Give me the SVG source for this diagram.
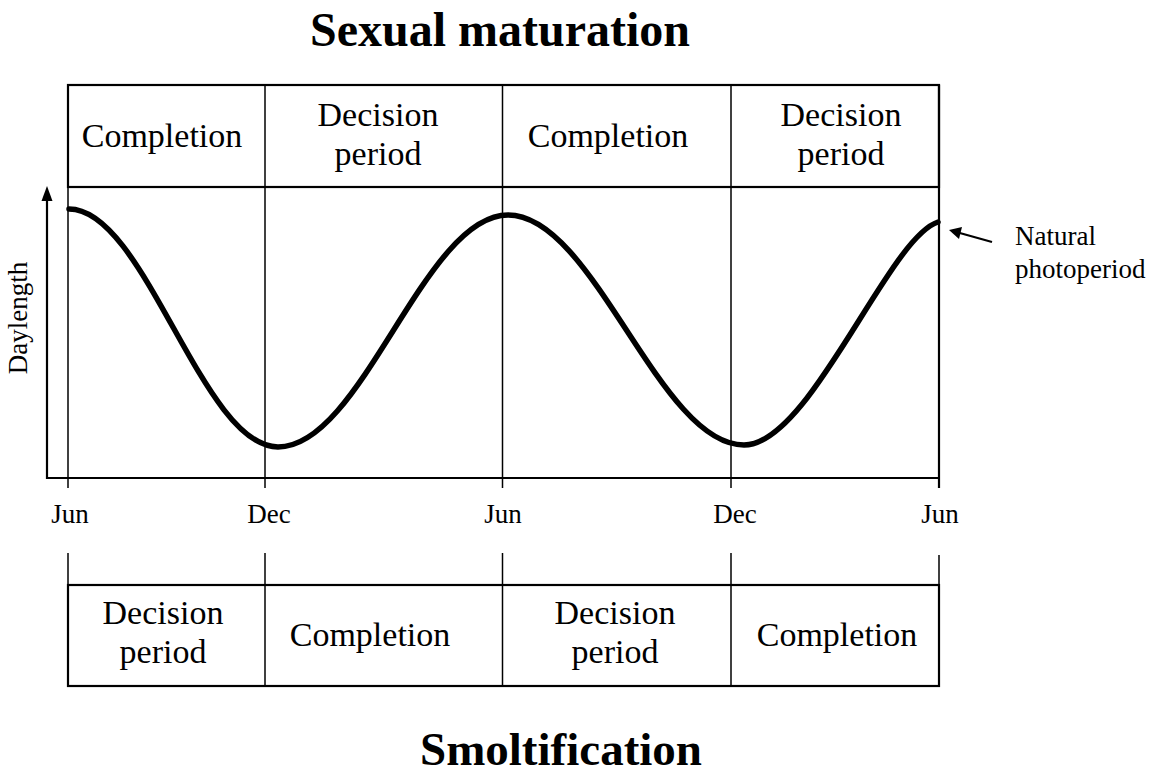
<svg xmlns="http://www.w3.org/2000/svg" width="1165" height="777" viewBox="0 0 1165 777">
<defs>
<style>
.title{font-family:"Liberation Serif","Times New Roman",serif;font-weight:bold;font-size:48px;fill:#000;text-anchor:middle}
.cell{font-family:"Liberation Serif","Times New Roman",serif;font-size:34px;fill:#000;text-anchor:middle}
.lab{font-family:"Liberation Serif","Times New Roman",serif;font-size:27px;fill:#000}
.mid{text-anchor:middle}
.box{fill:none;stroke:#000;stroke-width:2.2}
.grid{stroke:#000;stroke-width:1.5;fill:none}
.axis{stroke:#000;stroke-width:2.2;fill:none}
.curve{stroke:#000;stroke-width:5.5;fill:none;stroke-linecap:round;stroke-linejoin:round}
</style>
</defs>
<rect width="1165" height="777" fill="#fff"/>

<text id="title-top" class="title" x="500" y="46">Sexual maturation</text>
<text id="title-bottom" class="title" x="561" y="765" style="font-size:47px">Smoltification</text>

<g id="top-boxes">
<rect class="box" x="68" y="85" width="871" height="102"/>
<g id="top-cell-1"><text class="cell" x="162" y="147">Completion</text></g>
<g id="top-cell-2"><text class="cell" x="378" y="126">Decision</text><text class="cell" x="378" y="165">period</text></g>
<g id="top-cell-3"><text class="cell" x="608" y="147">Completion</text></g>
<g id="top-cell-4"><text class="cell" x="841" y="126">Decision</text><text class="cell" x="841" y="165">period</text></g>
</g>

<g id="grid">
<line class="grid" x1="68" y1="85" x2="68" y2="488"/>
<line class="grid" x1="265" y1="85" x2="265" y2="488"/>
<line class="grid" x1="502.5" y1="85" x2="502.5" y2="488"/>
<line class="grid" x1="731" y1="85" x2="731" y2="488"/>
<line class="axis" x1="939" y1="85" x2="939" y2="488"/>
</g>

<g id="axes">
<line class="axis" x1="46" y1="478" x2="940" y2="478"/>
<line class="axis" x1="47" y1="479" x2="47" y2="198"/>
<polygon points="47,186 41.5,201 52.5,201" fill="#000"/>
<text class="lab mid" transform="translate(27,318) rotate(-90)">Daylength</text>
</g>

<g id="photoperiod-curve">
<path class="curve" d="M69,209 C145,209 202,447 278,447 C362,447 424,215 508,215 C594,215 659,445 744,445 C810,445 888,238 938,222"/>
</g>

<g id="months">
<text class="lab mid" x="70" y="523">Jun</text>
<text class="lab mid" x="269" y="523">Dec</text>
<text class="lab mid" x="503" y="523">Jun</text>
<text class="lab mid" x="735" y="523">Dec</text>
<text class="lab mid" x="940" y="523">Jun</text>
</g>

<g id="natural-photoperiod">
<text class="lab" x="1015" y="245">Natural</text>
<text class="lab" x="1015" y="278">photoperiod</text>
</g>

<g id="connectors">
<line x1="992" y1="242" x2="958" y2="232.5" stroke="#000" stroke-width="2.2"/>
<polygon points="949,230 962,227 959,239" fill="#000"/>
</g>

<g id="bottom-ticks">
<line class="grid" x1="68" y1="553" x2="68" y2="585"/>
<line class="grid" x1="265" y1="553" x2="265" y2="585"/>
<line class="grid" x1="502.5" y1="553" x2="502.5" y2="585"/>
<line class="grid" x1="731" y1="553" x2="731" y2="585"/>
<line class="grid" x1="939" y1="555" x2="939" y2="585"/>
</g>

<g id="bottom-boxes">
<rect class="box" x="68" y="585" width="871" height="101"/>
<line class="grid" x1="265" y1="585" x2="265" y2="686"/>
<line class="grid" x1="502.5" y1="585" x2="502.5" y2="686"/>
<line class="grid" x1="731" y1="585" x2="731" y2="686"/>
<g id="bottom-cell-1"><text class="cell" x="163" y="624">Decision</text><text class="cell" x="163" y="663">period</text></g>
<g id="bottom-cell-2"><text class="cell" x="370" y="646">Completion</text></g>
<g id="bottom-cell-3"><text class="cell" x="615" y="624">Decision</text><text class="cell" x="615" y="663">period</text></g>
<g id="bottom-cell-4"><text class="cell" x="837" y="646">Completion</text></g>
</g>
</svg>
